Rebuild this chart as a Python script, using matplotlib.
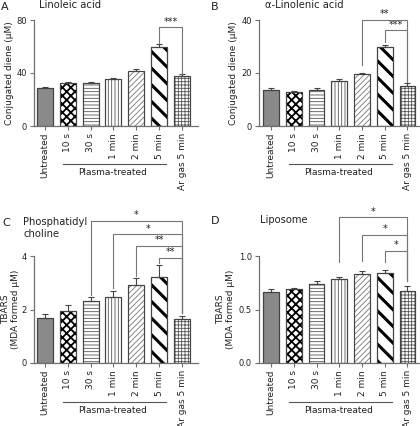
import matplotlib
matplotlib.use("Agg")
import matplotlib.pyplot as plt
import numpy as np

plt.rcParams['font.family'] = ['DejaVu Sans']

categories = ["Untreated", "10 s", "30 s", "1 min", "2 min", "5 min", "Ar gas 5 min"]

linoleic = [29.0, 32.5, 32.5, 35.5, 41.5, 59.5, 37.5]
linoleic_err = [0.5, 0.7, 0.8, 0.6, 1.3, 2.5, 1.5]

linolenic = [13.7, 12.8, 13.7, 16.8, 19.5, 29.8, 15.0]
linolenic_err = [0.8, 0.3, 0.8, 1.0, 0.6, 0.7, 1.2]

pc = [1.68, 1.95, 2.30, 2.48, 2.93, 3.22, 1.65]
pc_err = [0.15, 0.22, 0.17, 0.22, 0.25, 0.45, 0.10]

liposome = [0.66, 0.69, 0.74, 0.785, 0.83, 0.84, 0.675]
liposome_err = [0.03, 0.015, 0.025, 0.02, 0.03, 0.025, 0.045]

# significance brackets: (left index, right index, bracket y, left leg bottom, right leg bottom, label)
sig_A = [(5, 6, 74.5, 63.0, 39.5, "***")]
sig_B = [(4, 6, 40.0, 23.0, 16.7, "**"), (5, 6, 36.2, 31.8, 16.7, "***")]
sig_C = [(2, 6, 5.31, 2.56, 1.875, "*"), (3, 6, 4.81, 2.81, 1.875, "*"),
         (4, 6, 4.375, 3.25, 1.875, "**"), (5, 6, 3.94, 3.75, 1.875, "**")]
sig_D = [(3, 6, 1.36, 0.94, 0.77, "*"), (4, 6, 1.20, 0.95, 0.77, "*"),
         (5, 6, 1.05, 0.94, 0.77, "*")]

styles = [
    dict(fc="#8a8a8a", hatch=None, hc="#333333", hlw=1.0),
    dict(fc="white", hatch="xxxx", hc="black", hlw=1.3),
    dict(fc="white", hatch="-----", hc="#555555", hlw=0.6),
    dict(fc="white", hatch="|||||", hc="#555555", hlw=0.6),
    dict(fc="white", hatch="//////", hc="#777777", hlw=0.6),
    dict(fc="white", hatch="\\\\", hc="black", hlw=2.2),
    dict(fc="white", hatch="+++++", hc="#555555", hlw=0.6),
]

W, H = 420, 426
fig = plt.figure(figsize=(W / 100, H / 100), dpi=100)

def px_axes(left, top, right, bottom):
    return fig.add_axes([left / W, 1 - bottom / H, (right - left) / W, (bottom - top) / H])

spine_col = "#707070"
FS = 6.5
TFS = 6.0

def panel(ax, vals, errs, ymax, yticks, yticklabels, ylabel, sigs, labx, xlim):
    x = np.arange(len(vals))
    for i in range(len(vals)):
        st = styles[i]
        b = ax.bar(x[i], vals[i], width=0.70, color=st["fc"], edgecolor=st["hc"],
                   hatch=st["hatch"], linewidth=0.8, zorder=2)
        for p in b.patches:
            try:
                p.set_hatch_linewidth(st["hlw"])
            except Exception:
                pass
        ax.bar(x[i], vals[i], width=0.70, color="none", edgecolor="#444444",
               linewidth=0.8, zorder=3)
    ax.errorbar(x, vals, yerr=[np.zeros(len(errs)), errs], fmt="none",
                ecolor="#444444", elinewidth=0.8, capsize=2.5, capthick=0.8, zorder=4)
    ax.set_xlim(*xlim)
    ax.set_ylim(0, ymax)
    ax.set_yticks(yticks)
    ax.set_yticklabels(yticklabels, fontsize=TFS, color="#222222")
    ax.set_xticks(x)
    ax.set_xticklabels(categories, rotation=90, fontsize=FS, color="#222222")
    for s in ["top", "right"]:
        ax.spines[s].set_visible(False)
    for s in ["left", "bottom"]:
        ax.spines[s].set_color(spine_col)
        ax.spines[s].set_linewidth(0.9)
    ax.tick_params(axis="both", colors=spine_col, labelcolor="#222222",
                   length=3, width=0.8, pad=2)
    ax.set_ylabel(ylabel, fontsize=FS, color="#222222", linespacing=1.15)
    ax.yaxis.set_label_coords(labx, 0.5)
    ax.plot([0.8, 5.3], [-0.36, -0.36], transform=ax.get_xaxis_transform(),
            color="#555555", lw=0.8, clip_on=False)
    ax.text(2.95, -0.44, "Plasma-treated", transform=ax.get_xaxis_transform(),
            ha="center", va="center", fontsize=FS, color="#222222")
    for (i, j, yb, yl, yr, lab) in sigs:
        ax.plot([i, i, j, j], [yl, yb, yb, yr], color="#777777", lw=0.8,
                clip_on=False, zorder=5)
        ax.text((i + j) / 2, yb + ymax * 0.005, lab, ha="center", va="bottom",
                fontsize=7, color="#222222")

xlim_L = (-0.48, 6.7)
xlim_R = (-0.53, 6.55)

axA = px_axes(34, 20, 198, 126)
panel(axA, linoleic, linoleic_err, 80, [0, 40, 80], ["0", "40", "80"],
      "Conjugated diene (μM)", sig_A, -0.12, xlim_L)
axB = px_axes(259, 20, 420, 126)
panel(axB, linolenic, linolenic_err, 40, [0, 20, 40], ["0", "20", "40"],
      "Conjugated diene (μM)", sig_B, -0.13, xlim_R)
axC = px_axes(34, 256, 198, 363)
panel(axC, pc, pc_err, 4, [0, 2, 4], ["0", "2", "4"],
      "TBARS\n(MDA formed μM)", sig_C, -0.085, xlim_L)
axD = px_axes(259, 256, 420, 363)
panel(axD, liposome, liposome_err, 1.0, [0, 0.5, 1.0], ["0.0", "0.5", "1.0"],
      "TBARS\n(MDA formed μM)", sig_D, -0.15, xlim_R)

def ftxt(xp, yp, s, **kw):
    fig.text(xp / W, 1 - yp / H, s, **kw)

ftxt(1, 7, "A", fontsize=8, ha="left", va="center", color="#222222")
ftxt(39, 5, "Linoleic acid", fontsize=7.2, ha="left", va="center", color="#222222")
ftxt(211, 7, "B", fontsize=8, ha="left", va="center", color="#222222")
ftxt(265, 5, "α-Linolenic acid", fontsize=7.2, ha="left", va="center", color="#222222")
ftxt(2, 223, "C", fontsize=8, ha="left", va="center", color="#222222")
ftxt(23, 228, "Phosphatidyl\ncholine", fontsize=7.2, ha="left", va="center",
     color="#222222", linespacing=1.2)
ftxt(211, 221, "D", fontsize=8, ha="left", va="center", color="#222222")
ftxt(260, 220, "Liposome", fontsize=7.2, ha="left", va="center", color="#222222")

fig.savefig("out.png", dpi=100)
